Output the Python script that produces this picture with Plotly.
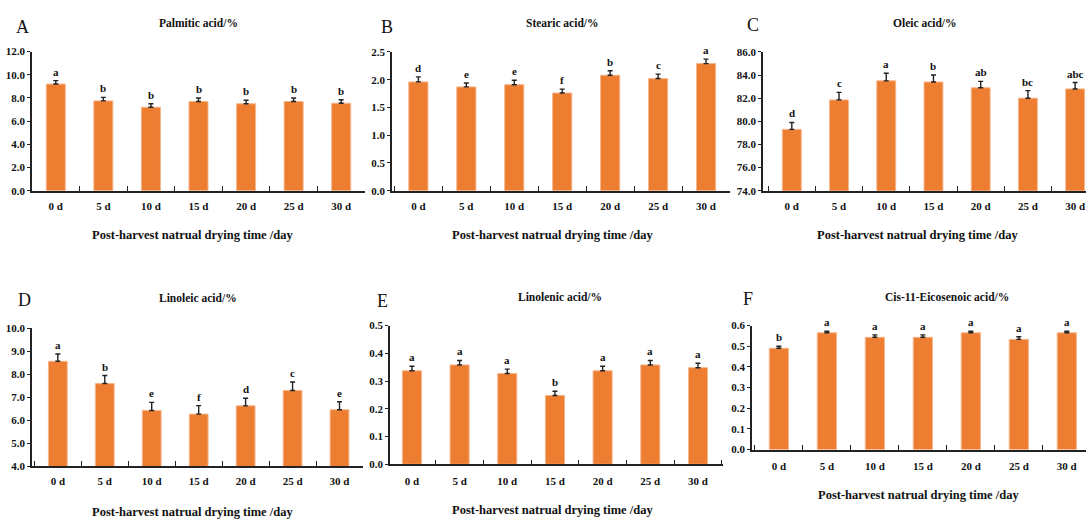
import plotly.graph_objects as go

W, H = 1086, 525

days = ["0 d", "5 d", "10 d", "15 d", "20 d", "25 d", "30 d"]

palmitic = [9.2, 7.75, 7.2, 7.7, 7.5, 7.7, 7.55]
palmitic_err = [0.3, 0.3, 0.3, 0.3, 0.3, 0.3, 0.3]
palmitic_sig = ["a", "b", "b", "b", "b", "b", "b"]

stearic = [1.96, 1.87, 1.91, 1.76, 2.08, 2.02, 2.29]
stearic_err = [0.09, 0.07, 0.08, 0.07, 0.08, 0.08, 0.08]
stearic_sig = ["d", "e", "e", "f", "b", "c", "a"]

oleic = [79.3, 81.85, 83.5, 83.4, 82.9, 82.0, 82.8]
oleic_err = [0.6, 0.65, 0.65, 0.6, 0.55, 0.65, 0.55]
oleic_sig = ["d", "c", "a", "b", "ab", "bc", "abc"]

linoleic = [8.57, 7.6, 6.43, 6.27, 6.63, 7.3, 6.46]
linoleic_err = [0.32, 0.35, 0.35, 0.37, 0.33, 0.37, 0.35]
linoleic_sig = ["a", "b", "e", "f", "d", "c", "e"]

linolenic = [0.337, 0.358, 0.327, 0.248, 0.337, 0.358, 0.348]
linolenic_err = [0.016, 0.016, 0.016, 0.015, 0.016, 0.016, 0.016]
linolenic_sig = ["a", "a", "a", "b", "a", "a", "a"]

eicosenoic = [0.49, 0.565, 0.543, 0.543, 0.565, 0.533, 0.565]
eicosenoic_err = [0.01, 0.007, 0.012, 0.012, 0.007, 0.013, 0.007]
eicosenoic_sig = ["b", "a", "a", "a", "a", "a", "a"]

titles = ["Palmitic acid/%", "Stearic acid/%", "Oleic acid/%",
          "Linoleic acid/%", "Linolenic acid/%", "Cis-11-Eicosenoic acid/%"]
letters = ["A", "B", "C", "D", "E", "F"]
xlabel = "Post-harvest natrual drying time /day"

series = [palmitic, stearic, oleic, linoleic, linolenic, eicosenoic]
errors = [palmitic_err, stearic_err, oleic_err, linoleic_err, linolenic_err, eicosenoic_err]
sigs = [palmitic_sig, stearic_sig, oleic_sig, linoleic_sig, linolenic_sig, eicosenoic_sig]

yranges = [(0, 12), (0, 2.5), (74, 86), (4, 10), (0, 0.5), (0, 0.6)]
ydticks = [2, 0.5, 2, 1, 0.1, 0.1]

# layout in pixels: (x0, x1, ytop, ybottom)
boxes = [(32, 365, 46.7, 189), (392, 730, 47, 189), (763, 1086, 47, 189),
         (32, 363, 330, 471), (390, 723, 327, 469), (752, 1086, 327, 454)]
xranges = [(-0.5, 6.5), (-0.55, 6.5), (-0.61, 6.23),
           (-0.55, 6.5), (-0.46, 6.525), (-0.56, 6.4)]
letter_pos = [(22, 21), (387, 21), (753, 19), (24, 301), (382, 302), (748, 300)]
title_pos = [(198, 17), (562, 17), (925, 17), (198, 299), (560, 298), (947, 298)]
xtitle_pos = [(192, 234), (552, 234), (917, 234), (192, 518), (552, 516), (918, 500)]
standoffs = [4, 4, 4, 4, 6, 5]

FONT = "Liberation Serif"
BAR = "#ED7D31"
AX = "#222222"

fig = go.Figure()
annotations = []

def px_x(v):
    return v / W

def px_y(v):
    return 1 - v / H

for i in range(6):
    n = "" if i == 0 else str(i + 1)
    xa, ya = "x" + n, "y" + n
    fig.add_trace(go.Bar(
        x=days, y=series[i], xaxis=xa, yaxis=ya, width=0.4,
        marker=dict(color=BAR, line=dict(color="#F6B68C", width=1)),
        error_y=dict(type="data", symmetric=False, array=errors[i],
                     arrayminus=[0] * 7, color=AX, thickness=1.4, width=2.5),
        showlegend=False, hoverinfo="skip"))
    x0, x1, yt, yb = boxes[i]
    fig.layout["xaxis" + n] = dict(
        domain=[px_x(x0), px_x(x1)], anchor=ya, range=list(xranges[i]),
        type="category", showline=True, linecolor=AX, linewidth=1.5,
        ticks="inside", tickson="boundaries", ticklen=5, tickcolor=AX, tickwidth=1.2,
        tickfont=dict(family=FONT, size=11, color="#111", weight="bold"),
        ticklabelstandoff=standoffs[i], showgrid=False, zeroline=False, fixedrange=True)
    fig.layout["yaxis" + n] = dict(
        domain=[px_y(yb), px_y(yt)], anchor=xa, range=list(yranges[i]),
        dtick=ydticks[i], tick0=yranges[i][0], tickformat=".1f",
        showline=True, linecolor=AX, linewidth=1.5,
        ticks="outside", ticklen=3, tickcolor=AX, tickwidth=1.2,
        tickfont=dict(family=FONT, size=11, color="#111", weight="bold"),
        showgrid=False, zeroline=False, fixedrange=True)
    for j in range(7):
        annotations.append(dict(
            x=days[j], y=series[i][j] + errors[i][j], xref=xa, yref=ya,
            text=sigs[i][j], showarrow=False, yanchor="bottom", yshift=1,
            font=dict(family=FONT, size=11, color="#111", weight="bold")))
    lx, ly = letter_pos[i]
    annotations.append(dict(x=px_x(lx), y=px_y(ly), xref="paper", yref="paper",
                            text=letters[i], showarrow=False, xanchor="center", yanchor="middle",
                            font=dict(family=FONT, size=18, color="#111")))
    tx, ty = title_pos[i]
    annotations.append(dict(x=px_x(tx), y=px_y(ty), xref="paper", yref="paper",
                            text=titles[i], showarrow=False, xanchor="center", yanchor="middle",
                            font=dict(family=FONT, size=11.5, color="#111", weight="bold")))
    ax_, ay_ = xtitle_pos[i]
    annotations.append(dict(x=px_x(ax_), y=px_y(ay_), xref="paper", yref="paper",
                            text=xlabel, showarrow=False, xanchor="center", yanchor="middle",
                            font=dict(family=FONT, size=12.5, color="#111", weight="bold")))

fig.update_layout(
    width=W, height=H, margin=dict(l=0, r=0, t=0, b=0),
    paper_bgcolor="white", plot_bgcolor="white",
    annotations=annotations, bargap=0.6)

fig.write_html("out.html", config={"displayModeBar": False},
               post_script="document.body.style.margin='0px';document.body.style.overflow='hidden';")
